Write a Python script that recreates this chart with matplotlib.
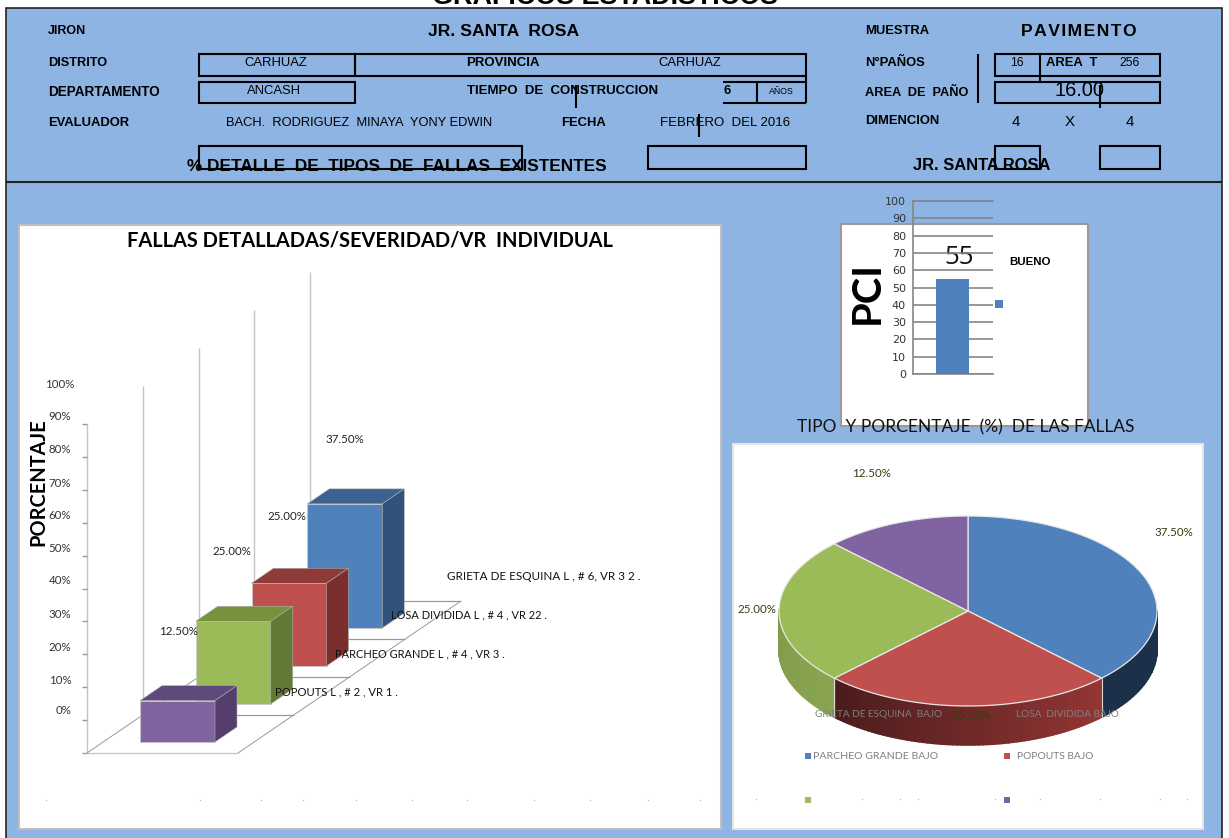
import numpy as np
import matplotlib
matplotlib.use("Agg")
import matplotlib.pyplot as plt
from matplotlib.patches import Rectangle, Polygon

# ---- data ----
fail_labels = ["POPOUTS L , # 2 , VR 1 .", "PARCHEO GRANDE L , # 4 , VR 3 .",
               "LOSA DIVIDIDA L , # 4 , VR 22 .", "GRIETA DE ESQUINA L , # 6, VR 3 2 ."]
fail_values = [12.5, 25.0, 25.0, 37.5]
fail_value_labels = ["", "12.50%", "25.00%", "25.00%"]
pct_ticks = [0, 10, 20, 30, 40, 50, 60, 70, 80, 90, 100]
pie_values = [37.5, 25.0, 25.0, 12.5]
pie_labels = ["37.50%", "25.00%", "25.00%", "12.50%"]
pci_value = [55]
pci_ticks = list(range(0, 101, 10))
front = ["#8064A2", "#9BBB59", "#C0504D", "#4F81BD"]
top = ["#604A7B", "#76923C", "#8E3A38", "#3C6291"]
side = ["#533E6C", "#637A36", "#7B2F2D", "#31527A"]

W, H = 1229, 838
fig = plt.figure(figsize=(W / 100, H / 100), dpi=100, facecolor="white")
ax = fig.add_axes([0, 0, 1, 1])
ax.set_xlim(0, W)
ax.set_ylim(H, 0)
ax.axis("off")

ARIAL = "Liberation Sans"
CAL = "Lato"
BG = "#8DB4E2"


def tx(x, y, s, px=11, bold=False, ha="left", fam=ARIAL, color="black", z=10, rot=0):
    ax.text(x, y + (0 if rot else 1.5), s, fontsize=px * 0.72, fontweight="bold" if bold else "normal", ha=ha,
            va="center", family=fam, color=color, zorder=z, rotation=rot)


def ln(xs, ys, lw=1.5, c="black", z=5):
    ax.plot(xs, ys, color=c, lw=lw, zorder=z, solid_capstyle="butt")


def box(x0, y0, x1, y1, fc="none", ec="black", lw=1.5, z=5):
    ax.add_patch(Rectangle((x0, y0), x1 - x0, y1 - y0, fc=fc, ec=ec, lw=lw, zorder=z))


# page
tx(605, -4, "GRAFICOS ESTADISTICOS", 27, True, "center", z=0)
box(6, 8, 1222, 850, fc=BG, ec="#222222", lw=1.2, z=1)
ln([6, 1222], [182, 182], 1.5, "#222222", 2)

# header boxes
box(199, 54, 355, 76)
box(199, 82, 355, 103)
box(355, 54, 806, 76)
ln([723, 806], [103, 103])
ln([723, 806], [82, 82])
ln([806, 806], [76, 103])
ln([757, 757], [82, 103])
ln([576, 576], [85, 108])
ln([699, 699], [114, 137])
box(199, 146, 522, 169)
box(648, 146, 806, 169)
box(995, 146, 1040, 169)
box(1100, 146, 1160, 169)
ln([978, 978], [54, 103])
box(995, 54, 1160, 76)
box(995, 82, 1160, 103)
ln([1040, 1040], [54, 82])
ln([1100, 1100], [85, 108])

# header text
tx(48, 30, "JIRON", 12.5, True)
tx(504, 30, "JR. SANTA  ROSA", 17.5, True, "center")
tx(48, 61, "DISTRITO", 12.8, True)
tx(48, 91, "DEPARTAMENTO", 13.5, True)
tx(48, 122, "EVALUADOR", 13, True)
tx(276, 61, "CARHUAZ", 13, False, "center")
tx(274, 90, "ANCASH", 13, False, "center")
tx(503, 61, "PROVINCIA", 13.2, True, "center")
tx(690, 61, "CARHUAZ", 13, False, "center")
tx(467, 90, "TIEMPO  DE  CONSTRUCCION", 13.2, True)
tx(724, 90, "6", 13, True)
tx(781, 90, "AÑOS", 8.8, False, "center")
tx(359, 121, "BACH.  RODRIGUEZ  MINAYA  YONY EDWIN", 12.9, False, "center")
tx(584, 121, "FECHA", 13, True, "center")
tx(725, 121, "FEBRERO  DEL 2016", 13.2, False, "center")
tx(397, 165, "% DETALLE  DE  TIPOS  DE  FALLAS  EXISTENTES", 17.2, True, "center", z=3)
tx(982, 164, "JR. SANTA ROSA", 16.5, True, "center", z=3)
tx(865, 30, "MUESTRA", 13, True)
tx(1079, 30, "P A V I M E N T O".replace(" ", "\u200a"), 17.5, True, "center")
tx(865, 61, "N°PAÑOS", 13, True)
tx(865, 91, "AREA  DE  PAÑO", 12.8, True)
tx(865, 119, "DIMENCION", 13, True)
tx(1017, 61, "16", 12, False, "center")
tx(1046, 61, "AREA  T", 13, True)
tx(1129, 61, "256", 12, False, "center")
tx(1080, 89, "16.00", 20, False, "center", z=3)
tx(1016, 121, "4", 15, False, "center")
tx(1070, 121, "X", 15, False, "center")
tx(1130, 121, "4", 15, False, "center")

# white panels
PANEL = "#BFBFBF"
box(19, 225, 721, 829, fc="white", ec=PANEL, lw=1.5, z=2)
box(841, 224, 1088, 426, fc="white", ec="#9A9A9A", lw=1.5, z=2)
box(733, 444, 1203, 829, fc="white", ec="#E4E4E4", lw=1.5, z=2)

# ---- pseudo-3D columns ----
tx(370, 239, "FALLAS DETALLADAS/SEVERIDAD/VR  INDIVIDUAL", 20, True, "center", CAL)
tx(38, 482, "PORCENTAJE", 20, True, "center", CAL, rot=90)
X0, Y0, PX = 87, 753, 3.29
DX, DY = 55.75, -38
GRID = "#C4C4C4"
FLOOR = "#999999"
n = len(fail_values)
ln([X0, X0], [Y0, Y0 - 100 * PX], 1.0, GRID, 3)
for p, lab_y in zip(pct_ticks, [709, 679, 646, 613, 579, 547, 514, 482, 448, 415, 383]):
    ln([X0 - 5, X0], [Y0 - p * PX] * 2, 1, FLOOR, 3)
    tx(60 if p else 64, lab_y, f"{p}%", 11.5, False, "center", CAL, "#333333")
FW = 151
for k in range(0, n + 1):
    xb, yb = X0 + k * DX, Y0 + k * DY
    if k:
        ln([xb, xb], [yb, yb - 100 * PX], 1.0, GRID, 3)
    ln([xb, xb + FW], [yb, yb], 0.9, FLOOR if k else GRID, 3)
ln([X0, X0 + n * DX], [Y0, Y0 + n * DY], 0.7, FLOOR, 3)
ln([X0 + FW, X0 + FW + n * DX], [Y0, Y0 + n * DY], 0.7, FLOOR, 3)
BW, BDX, BDY = 75, 22, -15
for i, v in enumerate(fail_values):
    x0, yb = 140 + i * DX, 742 + i * DY
    yt = yb - v * 3.31
    ax.add_patch(Polygon([(x0, yb), (x0 + BW, yb), (x0 + BW, yt), (x0, yt)], fc=front[i], ec="#C9C9C9", lw=0.6, zorder=6 - i * 0.1))
    ax.add_patch(Polygon([(x0, yt), (x0 + BDX, yt + BDY), (x0 + BW + BDX, yt + BDY), (x0 + BW, yt)], fc=top[i], ec="#B0B0B0", lw=0.4, zorder=6 - i * 0.1))
    ax.add_patch(Polygon([(x0 + BW, yb), (x0 + BW + BDX, yb + BDY), (x0 + BW + BDX, yt + BDY), (x0 + BW, yt)], fc=side[i], ec="#B0B0B0", lw=0.4, zorder=6 - i * 0.1))
for lab, x, y in zip(fail_value_labels[1:], [178, 232, 287], [630, 550, 515]):
    tx(x, y, lab, 11.5, False, "center", CAL, "#222222")
tx(345, 438, "37.50%", 11.5, False, "center", CAL, "#222222")
for lab, x, y, s in zip(fail_labels, [275, 335, 391, 447], [690, 652, 613, 575], [11.3, 11, 11, 11.6]):
    tx(x, y, lab, s, False, "left", CAL, "#111111")
dots_left = [46, 200, 261, 303, 356, 412, 467, 534, 590, 648, 700]
ax.plot(dots_left, [800] * len(dots_left), ls="none", marker="s", ms=0.9, color="#BBBBBB", mew=0, zorder=4)

# ---- PCI column chart ----
pa = fig.add_axes([913 / W, 1 - 374 / H, 80 / W, 173 / H], facecolor="none", zorder=5)
pa.bar([0], pci_value, width=33, color="#4F81BD", zorder=3)
pa.set_xlim(-39.5, 40.5)
pa.set_ylim(0, 100)
pa.set_yticks(pci_ticks)
pa.set_yticklabels([str(t) for t in pci_ticks], fontsize=8, family="DejaVu Sans", color="#333333")
pa.set_xticks([])
pa.tick_params(axis="y", length=0, pad=5)
pa.grid(axis="y", color="#868686", lw=1.2, zorder=1)
pa.spines["right"].set_visible(False)
for s in ["left", "bottom", "top"]:
    pa.spines[s].set_color("#868686")
    pa.spines[s].set_linewidth(1.2)
tx(959, 256, "55", 26, False, "center", "Open Sans", "#111111", z=12)
tx(1009, 260, "BUENO", 11.5, True, "left", ARIAL, z=12)
tx(867, 292, "PCI", 40, True, "center", CAL, rot=90)
box(995, 300, 1003, 308, fc="#4F81BD", ec="none", z=6)

# ---- pie (tilted, with depth) ----
tx(966, 426, "TIPO  Y PORCENTAJE  (%)  DE LAS FALLAS", 17.4, False, "center", CAL, "#111111")
CX, CY, RX, RY, D = 968, 611, 189, 95, 39
pie_top = ["#4F81BD", "#C0504D", "#9BBB59", "#8064A2"]
shade0 = ["#1A2E49", "#943634", "#8AA550", "#604A7B"]
shade1 = ["#1C3049", "#4A1C1C", "#789343", "#604A7B"]
edges = 90 - 3.6 * np.concatenate([[0], np.cumsum(pie_values)])


def rgb(h):
    return np.array(matplotlib.colors.to_rgb(h))


for i in range(len(pie_values)):
    t = np.radians(np.linspace(edges[i], edges[i + 1], 70))
    px_, py_ = CX + RX * np.cos(t), CY - RY * np.sin(t)
    for j in range(len(t) - 1):
        ta = (t[j] + t[j + 1]) / 2
        if np.sin(ta) < 0:
            f = j / (len(t) - 2)
            c = rgb(shade1[i]) * f + rgb(shade0[i]) * (1 - f)
            ax.add_patch(Polygon([(px_[j], py_[j]), (px_[j + 1], py_[j + 1]), (px_[j + 1], py_[j + 1] + D), (px_[j], py_[j] + D)],
                                 fc=c, ec=c, lw=1.2, zorder=4, joinstyle="round"))
    ax.add_patch(Polygon(np.vstack([[CX, CY], np.column_stack([px_, py_])]), fc=pie_top[i], ec="#E8E8E8", lw=0.9, zorder=5))
for e in edges:
    te = np.radians(e)
    if np.sin(te) < 0:
        xe, ye = CX + RX * np.cos(te), CY - RY * np.sin(te)
        ln([xe, xe], [ye, ye + D], 0.8, "#D8D8D8", 4.5)
OL = "#3B3B0F"
for lab, x, y in zip(pie_labels, [1174, 972, 757, 871], [531, 714, 608, 472]):
    tx(x, y, lab, 11.5, False, "center", CAL, OL, z=8)
GR = "#7F7F7F"
tx(879, 713, "GRIETA DE ESQUINA  BAJO", 10, False, "center", CAL, GR, z=7)
tx(1067, 713, "LOSA  DIVIDIDA BAJO", 10, False, "center", CAL, GR, z=7)
tx(813, 755, "PARCHEO GRANDE BAJO", 10.5, False, "left", CAL, GR)
tx(1017, 755, "POPOUTS BAJO", 10.2, False, "left", CAL, GR)
for (x, y), c in zip([(808, 756), (1007, 756), (808, 800), (1007, 800)], pie_top):
    box(x - 3, y - 3, x + 3, y + 3, fc=c, ec="none", z=6)
dots_right = [756, 862, 900, 918, 995, 1040, 1100, 1160, 1187]
ax.plot(dots_right, [799] * len(dots_right), ls="none", marker="s", ms=0.9, color="#BBBBBB", mew=0, zorder=4)

fig.savefig("out.png", dpi=100, facecolor="white")
